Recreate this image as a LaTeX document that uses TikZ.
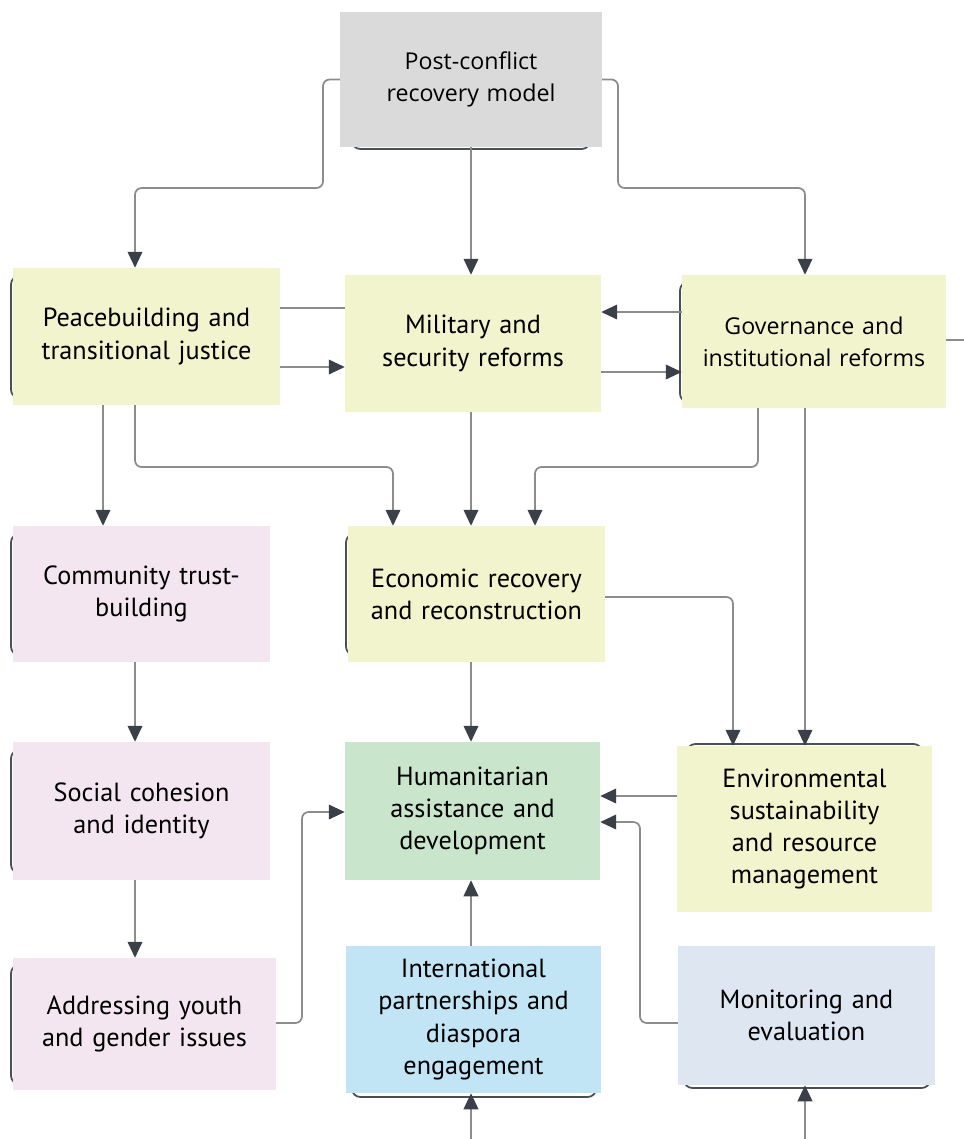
\documentclass[tikz,border=0pt]{standalone}
\usepackage{fontspec}
\setmainfont{PT Sans}
\newfontfamily\widefont{Open Sans}
\usetikzlibrary{arrows.meta}
\definecolor{boxgray}{HTML}{DADADA}
\definecolor{boxyellow}{HTML}{F2F4CE}
\definecolor{boxpink}{HTML}{F4E6F0}
\definecolor{boxgreen}{HTML}{C9E5CC}
\definecolor{boxblue}{HTML}{C2E5F5}
\definecolor{boxsteel}{HTML}{DDE6F1}
\definecolor{linegray}{HTML}{8C8C8C}
\definecolor{tipdark}{HTML}{3B4048}
\definecolor{edgedark}{HTML}{4A4E55}
\tikzset{
  box/.style={align=center, inner sep=0pt, text width=7.4cm,
    font=\fontsize{22.4}{27.5}\selectfont},
  widebox/.style={box, font=\widefont\fontsize{19.8}{27.5}\selectfont},
  backedge/.style={draw=edgedark, line width=1.5pt, rounded corners=0.25cm},
  line/.style={draw=linegray, line width=1.5pt, rounded corners=0.2cm},
  link/.style={line, -{Triangle[length=0.48cm, width=0.44cm, color=tipdark]}}
}
\begin{document}
\begin{tikzpicture}[x=0.03cm, y=-0.03cm]
  \useasboundingbox (0,0) rectangle (964,1139);
  % edges peeking out behind the boxes
  \draw[backedge] (352,20) rectangle (590,149);
  \draw[backedge] (11,276) rectangle (200,398);
  \draw[backedge] (680,282) rectangle (900,402);
  \draw[backedge] (11,534) rectangle (200,655);
  \draw[backedge] (346,534) rectangle (560,655);
  \draw[backedge] (11,750) rectangle (200,873);
  \draw[backedge] (11,965) rectangle (200,1084);
  \draw[backedge] (687,744) rectangle (922,850);
  \draw[backedge] (352,950) rectangle (596,1097);
  \draw[backedge] (684,950) rectangle (930,1088);
  % boxes
  \node[widebox, fill=boxgray, minimum width=7.86cm, minimum height=4.05cm]
    (post) at (471,79.5) {Post-conflict\\recovery model};
  \node[box, fill=boxyellow, minimum width=8.01cm, minimum height=4.11cm]
    (peace) at (146.5,336.5) {Peacebuilding and\\transitional justice};
  \node[box, fill=boxyellow, minimum width=7.68cm, minimum height=4.11cm]
    (mil) at (473,343.5) {Military and\\security reforms};
  \node[widebox, fill=boxyellow, minimum width=7.92cm, minimum height=3.99cm]
    (gov) at (814,341.5) {Governance and\\institutional reforms};
  \node[box, fill=boxpink, minimum width=7.71cm, minimum height=4.08cm]
    (comm) at (141.5,594) {Community trust-\\building};
  \node[box, fill=boxyellow, minimum width=7.71cm, minimum height=4.08cm]
    (econ) at (476.5,594) {Economic recovery\\and reconstruction};
  \node[box, fill=boxpink, minimum width=7.71cm, minimum height=4.14cm]
    (soc) at (141.5,811) {Social cohesion\\and identity};
  \node[box, fill=boxgreen, minimum width=7.65cm, minimum height=4.14cm]
    (hum) at (472.5,811) {Humanitarian\\assistance and\\development};
  \node[box, fill=boxyellow, minimum width=7.65cm, minimum height=4.98cm]
    (env) at (804.5,829) {Environmental\\sustainability\\and resource\\management};
  \node[box, fill=boxpink, minimum width=7.89cm, minimum height=3.96cm]
    (youth) at (144.5,1024) {Addressing youth\\and gender issues};
  \node[box, fill=boxblue, minimum width=7.65cm, minimum height=4.41cm]
    (intl) at (473.5,1019.5) {International\\partnerships and\\diaspora\\engagement};
  \node[box, fill=boxsteel, minimum width=7.71cm, minimum height=4.17cm]
    (mon) at (806.5,1015.5) {Monitoring and\\evaluation};
  \coordinate (edgeR) at (964,340);
  \coordinate (inA) at (471,1139);
  \coordinate (inB) at (805,1139);
  % connectors
  \draw[link] (post.west) -| (323,188) -| (peace.north -| 135,0);
  \draw[link] (post.south) -- (post.south |- mil.north);
  \draw[link] (post.east) -| (618,188) -| (gov.north -| 805,0);
  \draw[line] (peace.east |- 0,308) -- (mil.west |- 0,308);
  \draw[link] (peace.east |- 0,367) -- (mil.west |- 0,367);
  \draw[link] (gov.west |- 0,312) -- (mil.east |- 0,312);
  \draw[link] (mil.east |- 0,372) -- (gov.west |- 0,372);
  \draw[line] (gov.east |- edgeR) -- (edgeR);
  \draw[link] (peace.south -| 103,0) -- (comm.north -| 103,0);
  \draw[link] (peace.south -| 135,0) |- (393,467) -- (econ.north -| 393,0);
  \draw[link] (mil.south -| 471,0) -- (econ.north -| 471,0);
  \draw[link] (gov.south -| 758,0) |- (535,467) -- (econ.north -| 535,0);
  \draw[link] (gov.south -| 805,0) -- (env.north -| 805,0);
  \draw[link] (econ.east |- 0,597) -| (env.north -| 733,0);
  \draw[link] (econ.south -| 471,0) -- (hum.north -| 471,0);
  \draw[link] (comm.south -| 135,0) -- (soc.north -| 135,0);
  \draw[link] (soc.south -| 135,0) -- (youth.north -| 135,0);
  \draw[link] (youth.east |- 0,1023) -| (302,812) -- (hum.west |- 0,812);
  \draw[link] (env.west |- 0,796) -- (hum.east |- 0,796);
  \draw[link] (mon.west |- 0,1023) -| (640,822) -- (hum.east |- 0,822);
  \draw[link] (intl.north -| 471,0) -- (hum.south -| 471,0);
  \draw[link] (inA) -- (intl.south -| inA);
  \draw[link] (inB) -- (mon.south -| inB);
\end{tikzpicture}
\end{document}
